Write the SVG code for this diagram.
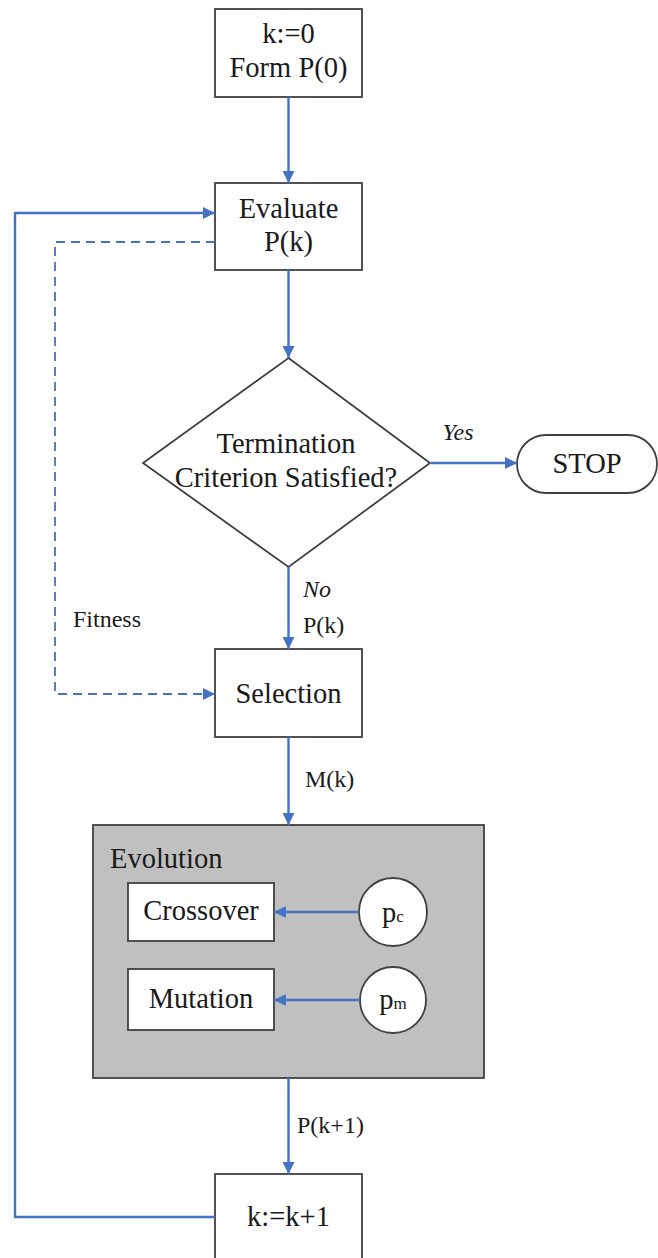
<svg xmlns="http://www.w3.org/2000/svg" width="658" height="1258" viewBox="0 0 658 1258">
<defs>
<style>
.box{fill:#fff;stroke:#404040;stroke-width:1.8}
text{font-family:'Liberation Serif','DejaVu Serif',serif;fill:#1a1a1a}
.t{font-size:28.5px;text-anchor:middle}
.l{font-size:28.5px;text-anchor:start}
.s{font-size:24px}
.i{font-style:italic}
.m{text-anchor:middle}
.c{fill:none;stroke:#4472c4;stroke-width:2.4}
.d{stroke-dasharray:9 6;stroke-width:1.8}
</style>
<marker id="ah" viewBox="0 0 12 12" refX="12" refY="6" markerWidth="12" markerHeight="12" markerUnits="userSpaceOnUse" orient="auto">
<path d="M0,0 L12,6 L0,12 z" fill="#4472c4"/>
</marker>
</defs>
<rect width="658" height="1258" fill="#fff"/>
<g id="init">
<rect class="box" x="215" y="9" width="147" height="88"/>
<text class="t" x="288.5" y="43">k:=0</text>
<text class="t" x="288.5" y="77">Form P(0)</text>
</g>
<g id="evaluate">
<rect class="box" x="215" y="183" width="147" height="87"/>
<text class="t" x="288.5" y="218">Evaluate</text>
<text class="t" x="288.5" y="251">P(k)</text>
</g>
<g id="termination">
<polygon class="box" points="288.5,358 430,463 288.5,567 143,463"/>
<text class="t" x="286" y="453">Termination</text>
<text class="t" x="286" y="487">Criterion Satisfied?</text>
</g>
<g id="stop">
<rect class="box" x="517" y="435" width="140" height="58" rx="29"/>
<text class="t" x="587" y="473">STOP</text>
</g>
<g id="selection">
<rect class="box" x="215" y="649" width="147" height="88"/>
<text class="t" x="288.5" y="703">Selection</text>
</g>
<g id="evolution">
<rect x="93" y="825" width="391" height="253" fill="#c0c0c0" stroke="#404040" stroke-width="1.8"/>
<text class="l" x="110" y="868">Evolution</text>
</g>
<g id="crossover">
<rect class="box" x="128" y="883" width="146" height="58"/>
<text class="t" x="201" y="920">Crossover</text>
</g>
<g id="mutation">
<rect class="box" x="128" y="969" width="146" height="61"/>
<text class="t" x="201" y="1008">Mutation</text>
</g>
<g id="pc">
<circle class="box" cx="393" cy="912" r="34"/>
<text class="t" x="393" y="922">p<tspan font-size="17">c</tspan></text>
</g>
<g id="pm">
<circle class="box" cx="393" cy="1000" r="33"/>
<text class="t" x="393" y="1009">p<tspan font-size="17">m</tspan></text>
</g>
<g id="increment">
<rect class="box" x="215" y="1174" width="147" height="90"/>
<text class="t" x="288.5" y="1226">k:=k+1</text>
</g>
<g id="connectors">
<line class="c" x1="288.5" y1="97" x2="288.5" y2="183" marker-end="url(#ah)"/>
<line class="c" x1="288.5" y1="270" x2="288.5" y2="358" marker-end="url(#ah)"/>
<line class="c" x1="431" y1="463" x2="517" y2="463" marker-end="url(#ah)"/>
<line class="c" x1="288.5" y1="567" x2="288.5" y2="649" marker-end="url(#ah)"/>
<line class="c" x1="288.5" y1="737" x2="288.5" y2="825" marker-end="url(#ah)"/>
<line class="c" x1="288.5" y1="1078" x2="288.5" y2="1174" marker-end="url(#ah)"/>
<polyline class="c" points="215,1217 15,1217 15,213 215,213" marker-end="url(#ah)"/>
<polyline class="c d" points="215,242 55,242 55,694 215,694" marker-end="url(#ah)"/>
<line class="c" x1="359" y1="912" x2="274" y2="912" marker-end="url(#ah)"/>
<line class="c" x1="360" y1="1000" x2="274" y2="1000" marker-end="url(#ah)"/>
<text class="s i m" x="458" y="440">Yes</text>
<text class="s i" x="303" y="597">No</text>
<text class="s" x="303" y="633">P(k)</text>
<text class="s" x="73" y="627">Fitness</text>
<text class="s" x="305" y="787">M(k)</text>
<text class="s" x="297" y="1133">P(k+1)</text>
</g>
</svg>
